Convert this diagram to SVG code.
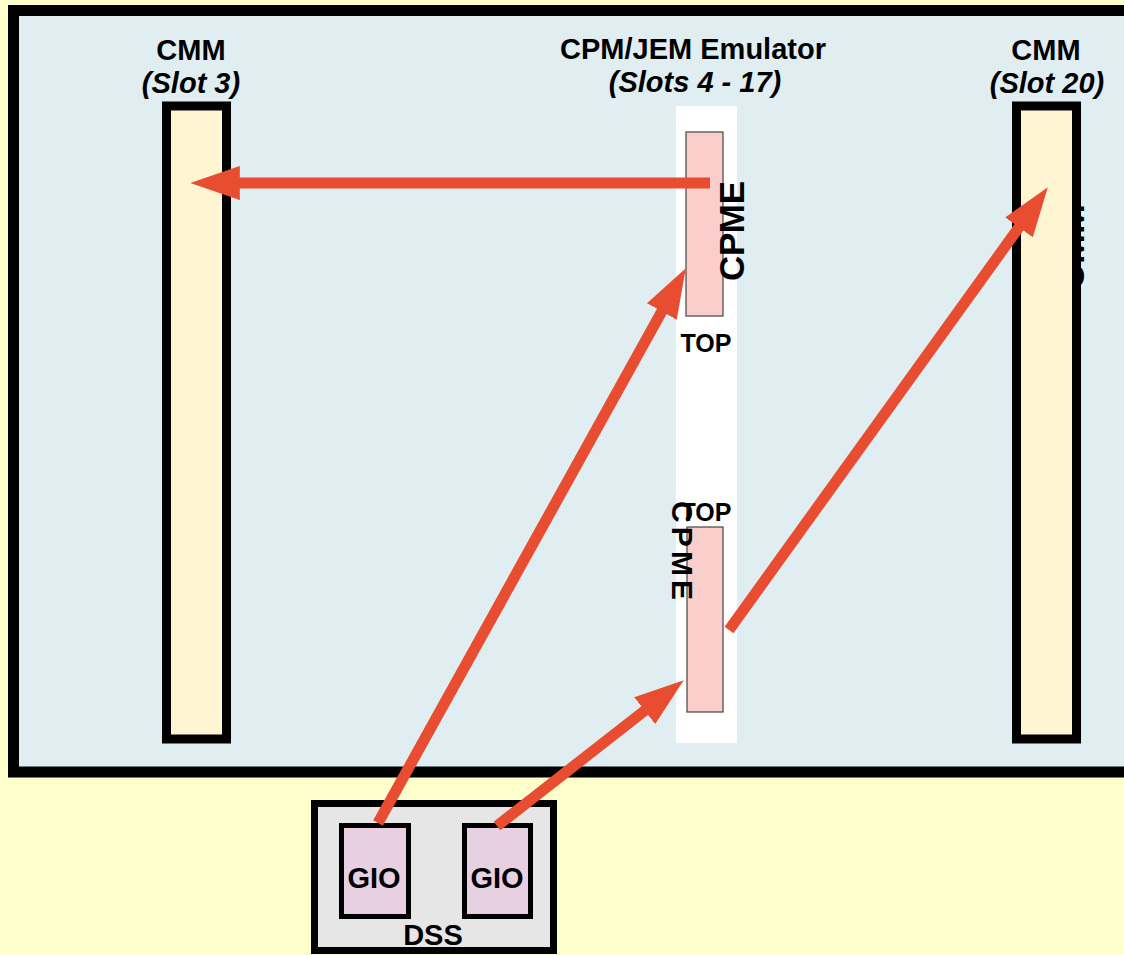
<svg xmlns="http://www.w3.org/2000/svg" width="1124" height="955" viewBox="0 0 1124 955">
<style>
text{font-family:"Liberation Sans",Arial,sans-serif;font-weight:bold;fill:#000}
.title{font-size:29px;text-anchor:middle}
.sub{font-size:29px;font-style:italic;text-anchor:middle}
.top{font-size:25px;text-anchor:middle}
.gio{font-size:29px;text-anchor:middle}
.slot{fill:#FFF5D2;stroke:#000;stroke-width:9}
.card{fill:#FACFCB;stroke:#444;stroke-width:1.2}
.gbox{fill:#E6D0E2;stroke:#000;stroke-width:5}
.arrow{stroke:#E84D31;stroke-width:11;fill:none;marker-end:url(#ah)}
</style>
<defs>
<marker id="ah" markerUnits="strokeWidth" markerWidth="4.5" markerHeight="3.1" viewBox="0 0 45 31" refX="18" refY="15.5" orient="auto">
<path d="M0,0 L45,15.5 L0,31 z" fill="#E84D31"/>
</marker>
</defs>
<rect x="0" y="0" width="1124" height="955" fill="#FFFFCC"/>
<g id="crate">
<rect x="13.5" y="10.5" width="1125" height="761.5" fill="#E0EEF2" stroke="#000" stroke-width="11"/>
</g>
<g id="cmm-slot3">
<text class="title" x="191" y="60">CMM</text>
<text class="sub" x="191" y="93">(Slot 3)</text>
<rect class="slot" x="166.5" y="106" width="60" height="633"/>
</g>
<g id="cmm-slot20">
<text class="title" x="1046" y="60">CMM</text>
<text class="sub" x="1047" y="93">(Slot 20)</text>
<text x="1084" y="290" font-size="36" transform="rotate(-90 1084 290)">CMM</text>
<rect class="slot" x="1016.5" y="106" width="60" height="633"/>
</g>
<g id="emulator">
<text class="title" x="693" y="59">CPM/JEM Emulator</text>
<text class="sub" x="695" y="92">(Slots 4 - 17)</text>
<rect x="676" y="106" width="61" height="637" fill="#FFFFFF"/>
</g>
<g id="cpme-upper">
<rect class="card" x="686" y="132" width="37" height="184"/>
<text x="744" y="281" font-size="35" textLength="100" lengthAdjust="spacing" transform="rotate(-90 744 281)">CPME</text>
<text class="top" x="706" y="352">TOP</text>
</g>
<g id="cpme-lower">
<rect class="card" x="687" y="527" width="36" height="185"/>
<text x="672" y="501" font-size="30" textLength="99" lengthAdjust="spacing" transform="rotate(90 672 501)">CPME</text>
<text class="top" x="706" y="521">TOP</text>
</g>
<g id="dss">
<rect x="314.5" y="803.5" width="239" height="147" fill="#E6E6E6" stroke="#000" stroke-width="7"/>
<text class="gio" x="433" y="945">DSS</text>
</g>
<g id="gio-left">
<rect class="gbox" x="341.5" y="825.5" width="67" height="91"/>
<text class="gio" x="374" y="888">GIO</text>
</g>
<g id="gio-right">
<rect class="gbox" x="464.5" y="825.5" width="66" height="91"/>
<text class="gio" x="497" y="888">GIO</text>
</g>
<g id="connectors">
<line class="arrow" x1="710" y1="183" x2="220" y2="183"/>
<line class="arrow" x1="378" y1="823" x2="671.4" y2="294.2"/>
<line class="arrow" x1="497" y1="826" x2="660.3" y2="698.5"/>
<line class="arrow" x1="729" y1="630" x2="1030.5" y2="211.3"/>
</g>
</svg>
